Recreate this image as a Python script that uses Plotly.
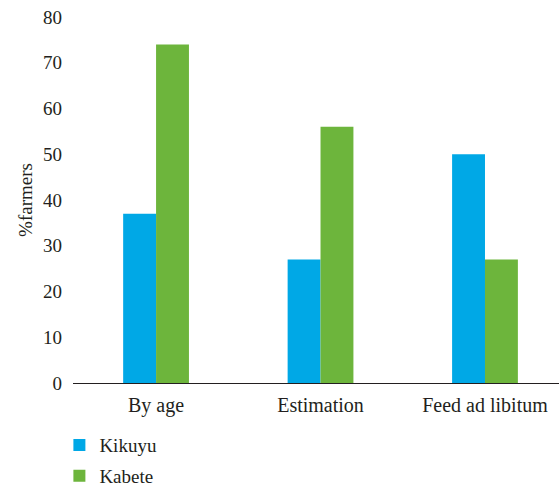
import plotly.graph_objects as go

categories = ["By age", "Estimation", "Feed ad libitum"]
kikuyu = [37, 27, 50]
kabete = [74, 56, 27]
y_ticks = [0, 10, 20, 30, 40, 50, 60, 70, 80]

font_family = "Liberation Serif, DejaVu Serif, serif"

fig = go.Figure()
fig.add_trace(go.Bar(name="Kikuyu", x=categories, y=kikuyu, marker_color="#00A8E6",
                     marker_line_width=0, legendgroup="a"))
fig.add_trace(go.Bar(name="Kabete", x=categories, y=kabete, marker_color="#6DB53C",
                     marker_line_width=0, legendgroup="b"))

fig.update_layout(
    width=559, height=487,
    margin=dict(l=73, r=0, t=17, b=104, autoexpand=False),
    paper_bgcolor="white", plot_bgcolor="white",
    barmode="group", bargap=0.6, bargroupgap=0,
    font=dict(family=font_family, size=20, color="#231F20"),
    showlegend=True,
    legend=dict(orientation="v", x=-0.028, xanchor="left", y=-0.118, yanchor="top",
                font=dict(size=19), tracegroupgap=3, itemwidth=30),
    xaxis=dict(range=[-0.505, 2.45], showline=True, linecolor="#231F20", linewidth=1,
               ticks="", showgrid=False, tickfont=dict(size=20), automargin=False,
               ticklabelstandoff=4),
    yaxis=dict(range=[0, 80], tickvals=y_ticks, showline=False, showgrid=False,
               zeroline=False, ticks="", ticklabelstandoff=10, automargin=False,
               tickfont=dict(size=19),
               title=dict(text="%farmers", standoff=5, font=dict(size=19))),
)

fig.write_html("out.html", config={"displayModeBar": False},
               post_script="document.body.style.margin='0';document.body.style.overflow='hidden';")
